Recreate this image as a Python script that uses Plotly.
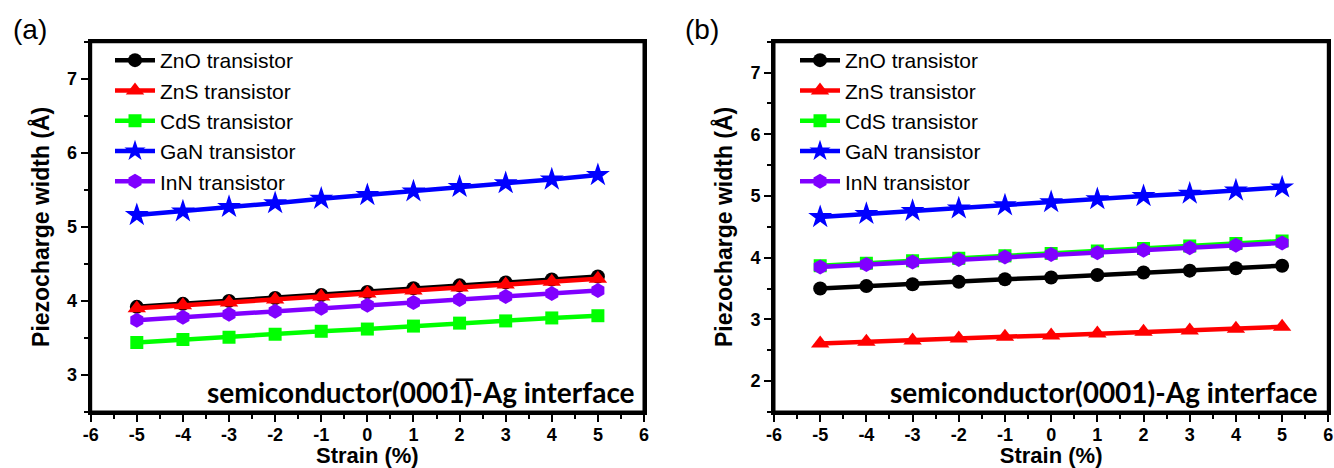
import plotly.graph_objects as go

strain = [-5, -4, -3, -2, -1, 0, 1, 2, 3, 4, 5]
names = ["ZnO transistor", "ZnS transistor", "CdS transistor", "GaN transistor", "InN transistor"]

# Panel (a): semiconductor(000-1)-Ag interface
a_zno = [3.92, 3.96, 4.00, 4.04, 4.08, 4.12, 4.17, 4.21, 4.25, 4.29, 4.33]
a_zns = [3.90, 3.94, 3.98, 4.02, 4.06, 4.10, 4.14, 4.18, 4.22, 4.26, 4.30]
a_cds = [3.44, 3.48, 3.51, 3.55, 3.59, 3.62, 3.66, 3.70, 3.73, 3.77, 3.80]
a_gan = [5.16, 5.21, 5.27, 5.32, 5.38, 5.43, 5.48, 5.54, 5.59, 5.64, 5.70]
a_inn = [3.74, 3.78, 3.82, 3.86, 3.90, 3.94, 3.98, 4.02, 4.06, 4.10, 4.14]

# Panel (b): semiconductor(0001)-Ag interface
b_zno = [3.50, 3.54, 3.57, 3.61, 3.65, 3.68, 3.72, 3.76, 3.79, 3.83, 3.87]
b_zns = [2.61, 2.64, 2.66, 2.69, 2.72, 2.74, 2.77, 2.80, 2.82, 2.85, 2.88]
b_cds = [3.87, 3.91, 3.95, 3.99, 4.03, 4.07, 4.11, 4.15, 4.19, 4.23, 4.27]
b_gan = [4.66, 4.71, 4.76, 4.80, 4.85, 4.90, 4.95, 5.00, 5.04, 5.09, 5.14]
b_inn = [3.85, 3.89, 3.93, 3.97, 4.01, 4.05, 4.08, 4.12, 4.16, 4.20, 4.24]

x_ticks = [-6, -5, -4, -3, -2, -1, 0, 1, 2, 3, 4, 5, 6]
a_yticks = [3, 4, 5, 6, 7]
b_yticks = [2, 3, 4, 5, 6, 7]

colors = ["#000000", "#ff0000", "#00ff00", "#0000ff", "#8000ff"]
symbols = ["circle", "triangle-up", "square", "star", "hexagon"]
sizes = [14, 16, 13, 18, 15]

fig = go.Figure()

for panel, (series, xa, ya, leg) in enumerate([
    ([a_zno, a_zns, a_cds, a_gan, a_inn], "x", "y", "legend"),
    ([b_zno, b_zns, b_cds, b_gan, b_inn], "x2", "y2", "legend2"),
]):
    for i, ys in enumerate(series):
        fig.add_trace(go.Scatter(
            x=strain, y=ys, name=names[i], mode="lines+markers",
            line=dict(color=colors[i], width=4.5),
            marker=dict(symbol=symbols[i], size=sizes[i], color=colors[i], line=dict(width=0)),
            xaxis=xa, yaxis=ya, legend=leg,
        ))

W, H = 1334, 468
def px_x(p): return p / W
def px_y(p): return 1 - p / H

tickfont = dict(family="Liberation Sans", size=18, color="black", weight="bold")
xtitlefont = dict(family="Liberation Sans", size=22, color="black", weight="bold")
ytitlefont = dict(family="Liberation Sans", size=23, color="black", weight="bold")

def xaxis(domain, anchor):
    return dict(domain=domain, range=[-6, 6], tickvals=x_ticks, anchor=anchor,
                ticktext=[str(v) for v in x_ticks], automargin=False,
                showline=True, linewidth=3, linecolor="black", mirror=True,
                ticks="outside", ticklen=7, tickwidth=2, tickcolor="black",
                ticklabelstandoff=-3,
                minor=dict(ticks="outside", dtick=0.5, ticklen=4, tickwidth=2, tickcolor="black"),
                showgrid=False, zeroline=False, tickfont=tickfont,
                title=dict(text="Strain (%)", font=xtitlefont, standoff=4))

def yaxis(domain, rng, ticks, anchor):
    return dict(domain=domain, range=rng, tickvals=ticks,
                ticktext=[str(v) for v in ticks], anchor=anchor, automargin=False,
                showline=True, linewidth=3, linecolor="black", mirror=True,
                ticks="outside", ticklen=7, tickwidth=2, tickcolor="black",
                minor=dict(ticks="outside", dtick=0.5, ticklen=4, tickwidth=2, tickcolor="black"),
                showgrid=False, zeroline=False, tickfont=tickfont,
                title=dict(text="Piezocharge width (Å)", font=ytitlefont, standoff=12))

ydom = [px_y(412), px_y(41.7)]
legfont = dict(family="Liberation Sans", size=21, color="black")

frame = []
for xr, yr in [("x domain", "y domain"), ("x2 domain", "y2 domain")]:
    frame.append(dict(type="rect", xref=xr, yref=yr, x0=0, x1=1, y0=0, y1=1,
                      line=dict(color="black", width=3), fillcolor="rgba(0,0,0,0)", layer="above"))

fig.update_layout(
    width=W, height=H, margin=dict(l=0, r=0, t=0, b=0, autoexpand=False),
    paper_bgcolor="white", plot_bgcolor="white",
    xaxis=xaxis([px_x(90.7), px_x(644)], "y"),
    yaxis=yaxis(ydom, [2.5, 7.5], a_yticks, "x"),
    xaxis2=xaxis([px_x(774), px_x(1328.3)], "y2"),
    yaxis2=yaxis(ydom, [1.5, 7.5], b_yticks, "x2"),
    legend=dict(x=px_x(110), y=px_y(40), xanchor="left", yanchor="top",
                font=legfont, bgcolor="rgba(0,0,0,0)", borderwidth=0,
                tracegroupgap=0, itemwidth=40),
    legend2=dict(x=px_x(795), y=px_y(40), xanchor="left", yanchor="top",
                 font=legfont, bgcolor="rgba(0,0,0,0)", borderwidth=0,
                 tracegroupgap=0, itemwidth=40),
    showlegend=True,
    shapes=frame,
    annotations=[
        dict(text="(a)", x=px_x(30), y=px_y(30), xref="paper", yref="paper",
             xanchor="center", yanchor="middle",
             showarrow=False, font=dict(family="Liberation Sans", size=28, color="black")),
        dict(text="(b)", x=px_x(702), y=px_y(30), xref="paper", yref="paper",
             xanchor="center", yanchor="middle",
             showarrow=False, font=dict(family="Liberation Sans", size=28, color="black")),
        dict(text="semiconductor(0001\u0305)-Ag interface", x=px_x(637), y=px_y(392),
             xref="paper", yref="paper", xanchor="right", yanchor="middle", showarrow=False,
             font=dict(family="Lato", size=28, color="black", weight="bold")),
        dict(text="semiconductor(0001)-Ag interface", x=px_x(1320), y=px_y(392),
             xref="paper", yref="paper", xanchor="right", yanchor="middle", showarrow=False,
             font=dict(family="Lato", size=28, color="black", weight="bold")),
    ],
)

fig.write_html("out.html", config={"displayModeBar": False},
               post_script="document.body.style.margin='0px';")
